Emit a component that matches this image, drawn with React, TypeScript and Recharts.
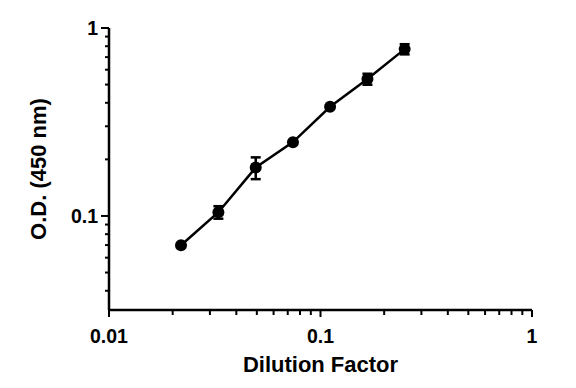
import React from 'react';
import { ScatterChart, Scatter, XAxis, YAxis, ErrorBar, Label } from 'recharts';

const dilution = [0.0219, 0.0329, 0.0494, 0.0741, 0.111, 0.1667, 0.25];
const od = [0.0698, 0.1047, 0.181, 0.247, 0.381, 0.535, 0.772];
const odErr = [0.001, 0.008, 0.024, 0.002, 0.003, 0.036, 0.048];

const xMajor = [0.01, 0.1, 1];
const xMinor = [0.02, 0.03, 0.04, 0.05, 0.06, 0.07, 0.08, 0.09, 0.2, 0.3, 0.4, 0.5, 0.6, 0.7, 0.8, 0.9];
const yMajor = [0.1, 1];
const yMinor = [0.04, 0.05, 0.06, 0.07, 0.08, 0.09, 0.2, 0.3, 0.4, 0.5, 0.6, 0.7, 0.8, 0.9];

const xTicks = [...xMajor, ...xMinor].sort((a, b) => a - b);
const yTicks = [...yMajor, ...yMinor].sort((a, b) => a - b);

const data = dilution.map((x, i) => ({ x, y: od[i], err: odErr[i] }));

const FONT = '"Liberation Sans", Arial, sans-serif';

const isMajor = (v: number, list: number[]) => list.some((m) => Math.abs(m - v) < 1e-9);

const XTick = (props: any) => {
  const { x, y, payload } = props;
  const major = isMajor(payload.value, xMajor);
  return (
    <g>
      <line x1={x} x2={x} y1={y} y2={y + (major ? 7 : 5)} stroke="#000" strokeWidth={2} />
      {major && (
        <text x={x} y={y + 33} textAnchor="middle" fontSize={19.5} fontWeight="bold" fontFamily={FONT} fill="#000">
          {String(payload.value)}
        </text>
      )}
    </g>
  );
};

const YTick = (props: any) => {
  const { x, y, payload } = props;
  const major = isMajor(payload.value, yMajor);
  return (
    <g>
      <line x1={x} x2={x - (major ? 8 : 4)} y1={y} y2={y} stroke="#000" strokeWidth={2} />
      {major && (
        <text x={x - 11} y={y + 7} textAnchor="end" fontSize={19.5} fontWeight="bold" fontFamily={FONT} fill="#000">
          {String(payload.value)}
        </text>
      )}
    </g>
  );
};

const Dot = (props: any) => {
  const { cx, cy } = props;
  return <circle cx={cx} cy={cy} r={6} fill="#000" />;
};

export default function App() {
  return (
    <ScatterChart
      width={568}
      height={380}
      margin={{ top: 20, right: 44, left: 0, bottom: 8 }}
      style={{ background: '#fff' }}
    >
      <XAxis
        type="number"
        dataKey="x"
        scale="log"
        domain={[0.01, 1]}
        allowDataOverflow
        ticks={xTicks}
        interval={0}
        tickSize={0}
        tickMargin={0}
        tick={<XTick />}
        axisLine={{ stroke: '#000', strokeWidth: 2.5 }}
        height={70}
      >
        <Label
          content={(p: any) => {
            const vb = p.viewBox;
            return (
              <text
                x={vb.x + vb.width / 2}
                y={vb.y + 62}
                textAnchor="middle"
                fontSize={22}
                fontWeight="bold"
                fontFamily={FONT}
                fill="#000"
              >
                Dilution Factor
              </text>
            );
          }}
        />
      </XAxis>
      <YAxis
        type="number"
        dataKey="y"
        scale="log"
        domain={[0.0316, 1]}
        allowDataOverflow
        ticks={yTicks}
        interval={0}
        tickSize={0}
        tickMargin={0}
        tick={<YTick />}
        axisLine={{ stroke: '#000', strokeWidth: 2.5 }}
        width={101}
      >
        <Label
          content={(p: any) => {
            const vb = p.viewBox;
            const cx = 38;
            const cy = vb.y + vb.height / 2;
            return (
              <text
                x={cx}
                y={cy}
                transform={`rotate(-90 ${cx} ${cy})`}
                textAnchor="middle"
                fontSize={22}
                fontWeight="bold"
                fontFamily={FONT}
                fill="#000"
              >
                O.D. (450 nm)
              </text>
            );
          }}
        />
      </YAxis>
      <Scatter
        data={data}
        isAnimationActive={false}
        line={{ stroke: '#000', strokeWidth: 2.5 }}
        lineType="joint"
        shape={<Dot />}
        fill="#000"
      >
        <ErrorBar dataKey="err" direction="y" width={5} stroke="#000" strokeWidth={2.5} />
      </Scatter>
    </ScatterChart>
  );
}
